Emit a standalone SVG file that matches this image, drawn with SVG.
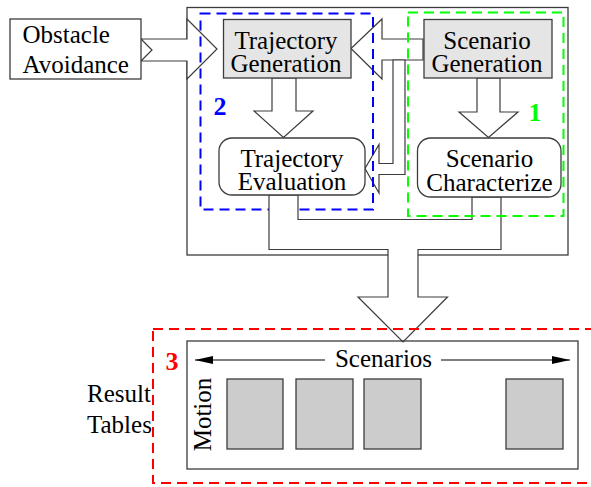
<svg xmlns="http://www.w3.org/2000/svg" width="591" height="487" viewBox="0 0 591 487">
  <style>
    .box { fill: #ffffff; stroke: #3c3c3c; stroke-width: 1.3; }
    .gen { fill: #e5e5e5; stroke: #3c3c3c; stroke-width: 1.3; }
    .cell { fill: #cccccc; stroke: #3c3c3c; stroke-width: 1.3; }
    .flow { fill: #ffffff; stroke: #3c3c3c; stroke-width: 1.2; stroke-linejoin: miter; }
    .dash { fill: none; stroke-width: 2; stroke-dasharray: 10 6; }
    .lbl { font-family: "Liberation Serif", "Times New Roman", serif; font-size: 25px; fill: #000000; }
    .mid { text-anchor: middle; }
    .num { font-family: "Liberation Serif", "Times New Roman", serif; font-size: 26px; font-weight: bold; text-anchor: middle; }
    .axis { stroke: #000000; stroke-width: 1.2; fill: none; }
  </style>
  <defs>
    <marker id="head" viewBox="0 0 18 8" refX="18" refY="4" markerWidth="18" markerHeight="8" markerUnits="userSpaceOnUse" orient="auto">
      <path d="M0,0 L18,4 L0,8 Z" fill="#000000"/>
    </marker>
  </defs>

  <!-- enclosing frame of the generation stage -->
  <rect id="frame" class="box" x="187" y="7.5" width="381" height="247.5"/>

  <g id="connectors">
    <!-- Obstacle Avoidance -> Trajectory Generation -->
    <polygon class="flow" points="141,39 187,39 187,19 217,49 187,79 187,61 141,61 152,50"/>
    <!-- Scenario Generation -> Trajectory Generation -->
    <polygon class="flow" points="423,39 382,39 382,19 351,48.5 382,79 382,60 423,60"/>
    <!-- Scenario Generation -> Trajectory Evaluation (bent branch) -->
    <polygon class="flow" points="393,60 393,163.5 379,163.5 379,144.5 365,168.5 379,193 379,174.5 405,174.5 405,60"/>
    <!-- Trajectory Generation -> Trajectory Evaluation -->
    <polygon class="flow" points="272,78 272,111 254,111 283.5,137.5 313,111 296,111 296,78"/>
    <!-- Scenario Generation -> Scenario Characterize -->
    <polygon class="flow" points="477,78 477,112 459,112 488.5,137.5 518,112 500,112 500,78"/>
  </g>

  <!-- group 2 -->
  <rect id="group2" class="dash" stroke="#0000ff" x="200.5" y="13.5" width="172.5" height="196"/>

  <g id="merge">
    <!-- both evaluations -> Result Tables -->
    <polygon class="flow" points="269,195 269,249.5 388,249.5 388,297 358,297 403,342 447.5,297 418,297 418,249.5 501,249.5 501,197 472,197 472,219.5 298,219.5 298,195"/>
  </g>

  <!-- group 1 -->
  <rect id="group1" class="dash" stroke="#00ff00" x="408" y="12.5" width="155.5" height="203.5"/>

  <g id="obstacle-avoidance">
    <rect class="box" x="10" y="19" width="131" height="60"/>
    <text class="lbl" x="22.5" y="43.3">Obstacle</text>
    <text class="lbl" x="22.5" y="72.7">Avoidance</text>
  </g>

  <g id="trajectory-generation">
    <rect class="gen" x="223.5" y="19.5" width="127.5" height="58.5"/>
    <text class="lbl mid" x="286" y="48.5">Trajectory</text>
    <text class="lbl mid" x="286" y="71.7">Generation</text>
  </g>

  <g id="scenario-generation">
    <rect class="gen" x="424" y="19.5" width="128" height="58.5"/>
    <text class="lbl mid" x="487" y="48.5">Scenario</text>
    <text class="lbl mid" x="487" y="71.7">Generation</text>
  </g>

  <g id="trajectory-evaluation">
    <rect class="box" x="219" y="138" width="146" height="57" rx="13" ry="13"/>
    <text class="lbl mid" x="292" y="166.7">Trajectory</text>
    <text class="lbl mid" x="292" y="189.5">Evaluation</text>
  </g>

  <g id="scenario-characterize">
    <rect class="box" x="417.5" y="138" width="143.5" height="59" rx="13" ry="13"/>
    <text class="lbl mid" x="489.5" y="167">Scenario</text>
    <text class="lbl mid" x="489.5" y="190.5">Characterize</text>
  </g>

  <text class="num" x="220" y="115" fill="#0000ff">2</text>
  <text class="num" x="535" y="120.5" fill="#00ff00">1</text>

  <g id="result-tables">
    <rect class="dash" stroke="#ff0000" x="153" y="329" width="460" height="154"/>
    <text class="num" x="172" y="370" fill="#ff0000">3</text>
    <text class="lbl" x="87" y="402.3">Result</text>
    <text class="lbl" x="87" y="432.7">Tables</text>
    <rect class="box" x="187" y="341" width="391" height="128" fill="none" style="fill:none"/>
    <line class="axis" x1="325" y1="360" x2="195" y2="360" marker-end="url(#head)"/>
    <line class="axis" x1="441" y1="360" x2="570" y2="360" marker-end="url(#head)"/>
    <text class="lbl mid" x="383.5" y="366.7">Scenarios</text>
    <text class="lbl mid" transform="translate(211,414.5) rotate(-90)">Motion</text>
    <rect class="cell" x="227" y="379" width="56" height="70"/>
    <rect class="cell" x="296" y="379" width="57" height="70"/>
    <rect class="cell" x="364" y="379" width="57" height="70"/>
    <rect class="cell" x="506" y="379" width="57" height="70"/>
  </g>
</svg>
